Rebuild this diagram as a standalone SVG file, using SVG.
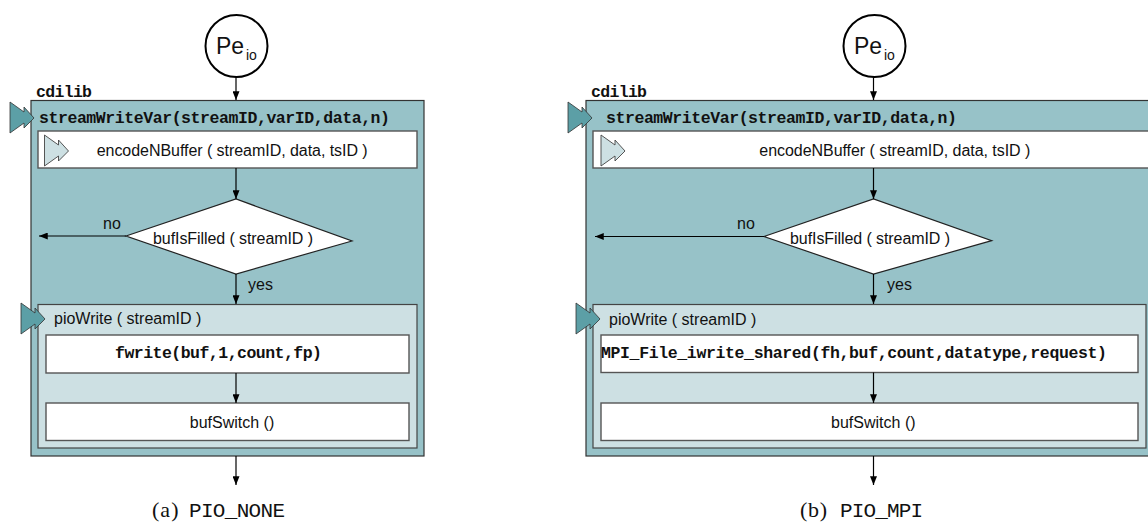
<svg xmlns="http://www.w3.org/2000/svg" width="1148" height="529" viewBox="0 0 1148 529">
<defs>
<style>
.outer{fill:#97c2c8;stroke:#333;stroke-width:1.2}
.pio{fill:#cde0e3;stroke:#444;stroke-width:1.2}
.box{fill:#fff;stroke:#555;stroke-width:1.4}
.dia{fill:#fff;stroke:#222;stroke-width:1.2}
.circ{fill:#fff;stroke:#000;stroke-width:2}
.mk{fill:#5c9fa6;stroke:#333;stroke-width:0.8}
.ic{fill:#cde0e3;stroke:#444;stroke-width:0.9}
.s{font-family:"Liberation Sans",Arial,sans-serif;font-size:16px;fill:#111}
.m{font-family:"Liberation Mono","Courier New",monospace;font-weight:bold;font-size:16.5px;fill:#111}
.cap{font-family:"Liberation Mono","Courier New",monospace;font-size:21px;fill:#111}
.capS{font-family:"Liberation Serif","Times New Roman",serif;font-size:22px;fill:#111}
.c{stroke:#000;stroke-width:1.2;fill:none;marker-end:url(#ah)}
</style>
<marker id="ah" viewBox="0 0 10 8" refX="10" refY="4" markerWidth="10" markerHeight="7" markerUnits="userSpaceOnUse" orient="auto">
<path d="M0,0 L10,4 L0,8 Z" fill="#000"/>
</marker>
<polygon id="ff" points="0,0 14,10 14,5 24,16 14,26 14,21 0,31"/>
</defs>

<!-- ===== Diagram (a) ===== -->
<g id="a-cdilib">
<rect class="outer" x="31" y="100.5" width="393" height="355.5"/>
<text class="m" x="36" y="97" textLength="56">cdilib</text>
<use href="#ff" class="mk" x="10" y="102"/>
<text class="m" x="39" y="123" textLength="351">streamWriteVar(streamID,varID,data,n)</text>
</g>
<g id="a-pe">
<circle class="circ" cx="236.5" cy="46" r="31"/>
<text class="s" x="216" y="54" style="font-size:23px">Pe</text>
<text class="s" x="246" y="60" style="font-size:14px">io</text>
</g>
<g id="a-encode">
<rect class="box" x="38" y="131" width="379" height="37"/>
<use href="#ff" class="ic" x="44.5" y="135"/>
<text class="s" x="96.7" y="156" textLength="271">encodeNBuffer ( streamID, data, tsID )</text>
</g>
<g id="a-bufisfilled">
<polygon class="dia" points="126,236 236,199 352,241 236,274"/>
<text class="s" x="153" y="244" textLength="160">bufIsFilled ( streamID )</text>
</g>
<g id="a-piowrite">
<rect class="pio" x="38" y="304.5" width="379" height="143.5"/>
<use href="#ff" class="mk" x="21" y="303"/>
<text class="s" x="54" y="324">pioWrite ( streamID )</text>
</g>
<g id="a-fwrite">
<rect class="box" x="46" y="335" width="363" height="38"/>
<text class="m" x="115" y="358" textLength="207">fwrite(buf,1,count,fp)</text>
</g>
<g id="a-bufswitch">
<rect class="box" x="46" y="403" width="363" height="37.5"/>
<text class="s" x="232" y="428" text-anchor="middle">bufSwitch ()</text>
</g>
<g id="a-caption">
<text class="capS" x="152" y="517" textLength="26.5">(a)</text>
<text class="cap" x="189" y="517" textLength="96">PIO_NONE</text>
</g>

<!-- ===== Diagram (b) ===== -->
<g id="b-cdilib">
<rect class="outer" x="586" y="100.5" width="570" height="355.5"/>
<text class="m" x="591" y="97" textLength="56">cdilib</text>
<use href="#ff" class="mk" x="568" y="102"/>
<text class="m" x="606" y="123" textLength="351">streamWriteVar(streamID,varID,data,n)</text>
</g>
<g id="b-pe">
<circle class="circ" cx="874.5" cy="46" r="31"/>
<text class="s" x="854" y="54" style="font-size:23px">Pe</text>
<text class="s" x="884" y="60" style="font-size:14px">io</text>
</g>
<g id="b-encode">
<rect class="box" x="593" y="131" width="560" height="37"/>
<use href="#ff" class="ic" x="601" y="135"/>
<text class="s" x="759.3" y="156" textLength="271">encodeNBuffer ( streamID, data, tsID )</text>
</g>
<g id="b-bufisfilled">
<polygon class="dia" points="764,236.5 873.5,199 991.7,240.7 873.5,274"/>
<text class="s" x="790" y="244" textLength="160">bufIsFilled ( streamID )</text>
</g>
<g id="b-piowrite">
<rect class="pio" x="593" y="304.5" width="553" height="143.5"/>
<use href="#ff" class="mk" x="576" y="303"/>
<text class="s" x="609" y="325">pioWrite ( streamID )</text>
</g>
<g id="b-mpiwrite">
<rect class="box" x="601" y="335" width="537" height="37.5"/>
<text class="m" x="601" y="358" textLength="506">MPI_File_iwrite_shared(fh,buf,count,datatype,request)</text>
</g>
<g id="b-bufswitch">
<rect class="box" x="601" y="403" width="537" height="37.5"/>
<text class="s" x="873.3" y="428" text-anchor="middle">bufSwitch ()</text>
</g>
<g id="b-caption">
<text class="capS" x="800" y="517" textLength="27">(b)</text>
<text class="cap" x="840" y="517" textLength="83">PIO_MPI</text>
</g>

<!-- ===== Connectors ===== -->
<g id="connectors">
<line class="c" x1="236" y1="77" x2="236" y2="100"/>
<line class="c" x1="236" y1="168" x2="236" y2="199"/>
<line class="c" x1="126" y1="236" x2="39" y2="236"/>
<line class="c" x1="236" y1="274" x2="236" y2="304"/>
<line class="c" x1="236" y1="373" x2="236" y2="403"/>
<line class="c" x1="236" y1="456" x2="236" y2="485"/>
<text class="s" x="103" y="229">no</text>
<text class="s" x="248" y="290">yes</text>

<line class="c" x1="873.5" y1="77" x2="873.5" y2="100"/>
<line class="c" x1="873.5" y1="168" x2="873.5" y2="199"/>
<line class="c" x1="764" y1="236.5" x2="595" y2="236.5"/>
<line class="c" x1="873.5" y1="274" x2="873.5" y2="304"/>
<line class="c" x1="873.5" y1="372.5" x2="873.5" y2="403"/>
<line class="c" x1="873.5" y1="456" x2="873.5" y2="485"/>
<text class="s" x="737" y="229">no</text>
<text class="s" x="887" y="290">yes</text>
</g>
</svg>
